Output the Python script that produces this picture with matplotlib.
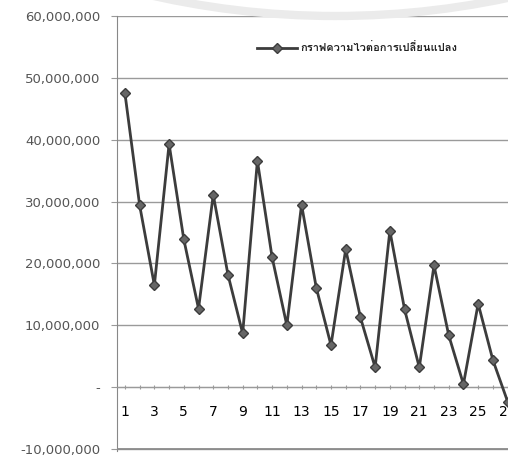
import matplotlib
import matplotlib.pyplot as plt
from matplotlib import font_manager
from matplotlib.ft2font import FT2Font
from matplotlib.patches import Arc

plt.switch_backend("agg")

# data
periods = list(range(1, 28))
values = [
    47.5, 29.4, 16.5, 39.3, 23.9, 12.7, 31.1, 18.2, 8.7, 36.6,
    21.0, 10.0, 29.5, 16.1, 6.8, 22.3, 11.3, 3.2, 25.3, 12.6,
    3.2, 19.7, 8.4, 0.5, 13.5, 4.4, -2.3,
]  # millions
y_ticks = [-10, 0, 10, 20, 30, 40, 50, 60]
series_label = "กราฟความไวต่อการเปลี่ยนแปลง"

LINE_COLOR = "#3c3c3c"
GRID_COLOR = "#9a9a9a"
TEXT_COLOR = "#555555"


def thai_font():
    # pick any installed family that has Thai glyphs
    for f in font_manager.fontManager.ttflist:
        try:
            if 0x0E01 in FT2Font(f.fname).get_charmap():
                return f.name
        except Exception:
            pass
    return "DejaVu Sans"


fig = plt.figure(figsize=(5.08, 4.57), dpi=100)
fig.patch.set_facecolor("white")

# faint watermark arc at the top (big circle, only its bottom shows)
fig.patches.append(Arc((0.66, 2.79), 3.283, 3.650, transform=fig.transFigure,
                       theta1=245, theta2=295, color="#ebebeb", linewidth=6))

ax = fig.add_axes([0.230, 0.0131, 0.775, 0.952])
ax.patch.set_alpha(0)

ax.plot(periods, [v * 1e6 for v in values], color=LINE_COLOR, linewidth=2.0,
        marker="D", markersize=5, markerfacecolor="#666666",
        markeredgecolor=LINE_COLOR, label=series_label, zorder=3)

ax.set_xlim(0.45, 27.2)
ax.set_ylim(-10.3e6, 60e6)

ax.set_yticks([t * 1e6 for t in y_ticks])
ax.set_yticklabels(["-10,000,000", "-"] + [f"{t * 1_000_000:,}" for t in y_ticks[2:]],
                   fontsize=9.5, color=TEXT_COLOR)
ax.grid(axis="y", color=GRID_COLOR, linewidth=1.0)
# bottom border of the plot area
ax.axhline(y_ticks[0] * 1e6, color="#8c8c8c", linewidth=1.3, zorder=4)
ax.tick_params(axis="y", length=4, color=GRID_COLOR, pad=8)

ax.set_xticks(periods)
ax.set_xticklabels([str(p) if p % 2 == 1 else "" for p in periods],
                   fontsize=9, color=TEXT_COLOR)
ax.tick_params(axis="x", length=3, direction="inout", color=GRID_COLOR, pad=11)

ax.spines["bottom"].set_position(("data", 0))
ax.spines["bottom"].set_color(GRID_COLOR)
ax.spines["bottom"].set_linestyle((0, (2, 1)))
ax.spines["left"].set_color("#888888")
ax.spines["top"].set_visible(False)
ax.spines["right"].set_visible(False)

leg = ax.legend(loc="upper left", bbox_to_anchor=(0.33, 0.962), frameon=False,
                handlelength=3.6, handletextpad=0.3,
                prop={"family": [thai_font(), "DejaVu Sans"], "size": 8, "weight": "bold"})
for t in leg.get_texts():
    t.set_color("#222222")

fig.savefig("out.png", dpi=100, facecolor="white")
